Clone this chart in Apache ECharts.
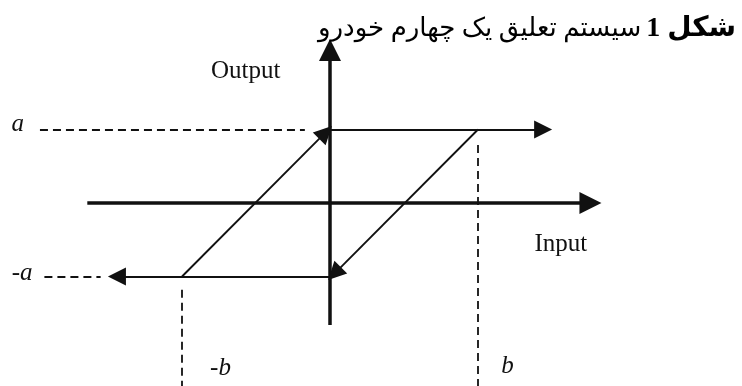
<!DOCTYPE html>
<html>
<head>
<meta charset="utf-8">
<script src="https://cdn.jsdelivr.net/npm/echarts@6/dist/echarts.min.js"></script>
<style>
  html, body { margin: 0; padding: 0; background: #fff; }
  #chart { width: 742px; height: 386px; }
</style>
</head>
<body>
<div id="chart"></div>
<script>
// hysteresis loop, a = 1 (output level), b = 1 (input threshold)
var axisX = [[-1.64, 0], [1.76, 0]];
var axisY = [[0, -1.66], [0, 2.08]];
var upperBranch = [[0, 1], [1.44, 1]];
var lowerBranch = [[0, -1], [-1.44, -1]];
var risingEdge = [[-1, -1], [-0.03, 0.96]];
var fallingEdge = [[1, 1], [0.03, -0.96]];
var guideA = [[-1.96, 1], [-0.17, 1]];
var guideNegA = [[-1.93, -1], [-1.55, -1]];
var guideB = [[1, 0.79], [1, -2.49]];
var guideNegB = [[-1, -1.18], [-1, -2.49]];
var levelNames = ['a', '-a', '-b', 'b'];
var levelPos = [[-2.11, 1.07], [-2.08, -0.96], [-0.74, -2.25], [1.2, -2.23]];
var axisNames = ['Output', 'Input'];
var axisNamePos = [[-0.57, 1.79], [1.56, -0.56]];

var black = '#111';

function seg(list) {
    return list.map(function (c) { return { coords: c }; });
}

var levelData = [];
for (var i = 0; i < levelNames.length; i++) {
    levelData.push({ name: levelNames[i], value: levelPos[i] });
}
var axisNameData = [];
for (var j = 0; j < axisNames.length; j++) {
    axisNameData.push({ name: axisNames[j], value: axisNamePos[j] });
}

var option = {
    animation: false,
    title: {
        text: '{n|سیستم تعلیق یک چهارم خودرو} {b|شکل 1}',
        right: 1,
        top: 10,
        textStyle: {
            fontWeight: 'normal',
            rich: {
                n: { fontFamily: 'Liberation Serif, DejaVu Sans', fontSize: 26, fontWeight: 'normal', color: '#000' },
                b: { fontFamily: 'Liberation Serif, DejaVu Sans', fontSize: 28, fontWeight: 'bold', color: '#000' }
            }
        }
    },
    grid: { left: 0, right: 0, top: 0, bottom: 0 },
    xAxis: { type: 'value', min: -2.23, max: 2.784, show: false },
    yAxis: { type: 'value', min: -2.49, max: 2.762, show: false },
    series: [
        {
            // main axes
            type: 'lines',
            coordinateSystem: 'cartesian2d',
            symbol: ['none', 'triangle'],
            symbolSize: [15, 22],
            lineStyle: { color: black, width: 3.5, opacity: 1 },
            data: seg([axisX, axisY])
        },
        {
            // loop branches
            type: 'lines',
            coordinateSystem: 'cartesian2d',
            symbol: ['none', 'triangle'],
            symbolSize: [13, 18],
            lineStyle: { color: black, width: 1.9, opacity: 1 },
            data: seg([upperBranch, lowerBranch, risingEdge, fallingEdge])
        },
        {
            // dashed guides
            type: 'lines',
            coordinateSystem: 'cartesian2d',
            symbol: ['none', 'none'],
            lineStyle: { color: black, width: 1.8, type: [8, 5], opacity: 1 },
            data: seg([guideA, guideNegA, guideB, guideNegB])
        },
        {
            type: 'scatter',
            symbolSize: 0,
            clip: false,
            itemStyle: { opacity: 1 },
            data: levelData,
            label: {
                show: true,
                position: 'inside',
                formatter: '{b}',
                fontFamily: 'Liberation Serif',
                fontStyle: 'italic',
                fontSize: 25,
                color: '#111'
            }
        },
        {
            type: 'scatter',
            symbolSize: 0,
            clip: false,
            itemStyle: { opacity: 1 },
            data: axisNameData,
            label: {
                show: true,
                position: 'inside',
                formatter: '{b}',
                fontFamily: 'Liberation Serif',
                fontSize: 25,
                color: '#111'
            }
        }
    ]
};

var myChart = echarts.init(document.getElementById('chart'));
myChart.setOption(option);
</script>
</body>
</html>
